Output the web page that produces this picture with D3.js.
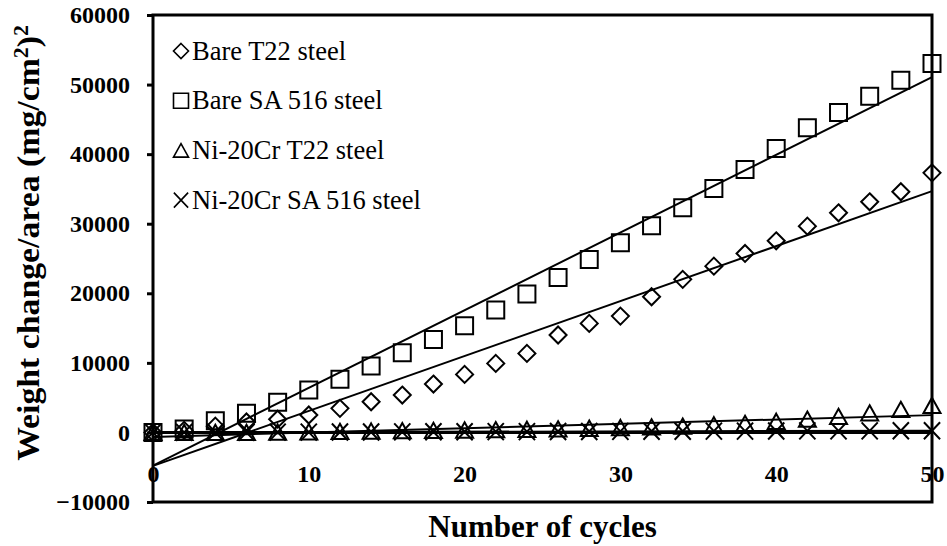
<!DOCTYPE html>
<html>
<head>
<meta charset="utf-8">
<script src="https://cdn.jsdelivr.net/npm/d3@7"></script>
<style>body{margin:0;background:#fff}</style>
</head>
<body>
<svg id="chart" width="947" height="546"></svg>
<script>
// Cycle numbers at which the specimens were weighed
const cycles = [0, 2, 4, 6, 8, 10, 12, 14, 16, 18, 20, 22, 24, 26, 28, 30, 32, 34, 36, 38, 40, 42, 44, 46, 48, 50];

// (Weight change / area)^2 in (mg/cm^2)^2 for each specimen
const bareT22 = [0, 300, 900, 1500, 1900, 2500, 3460, 4410, 5370, 6950, 8340, 9920, 11360, 14000, 15670, 16720, 19500, 22000, 23900, 25730, 27540, 29650, 31570, 33150, 34590, 37310];
const bareSA516 = [0, 490, 1680, 2740, 4320, 6090, 7630, 9540, 11450, 13370, 15330, 17590, 19880, 22280, 24870, 27260, 29700, 32290, 35070, 37800, 40820, 43780, 45990, 48330, 50630, 53030];
const niCrT22 = [0, 0, 0, 0, 50, 100, 150, 200, 250, 300, 350, 400, 450, 500, 600, 700, 800, 900, 1100, 1300, 1600, 1900, 2300, 2800, 3300, 3900];
const niCrSA516 = [0, 15, 20, 30, 45, 50, 60, 70, 80, 95, 100, 110, 120, 135, 140, 150, 165, 170, 180, 190, 200, 215, 220, 230, 245, 250];

const seriesNames = ["Bare T22 steel", "Bare SA 516 steel", "Ni-20Cr T22 steel", "Ni-20Cr SA 516 steel"];
const markerKinds = ["diamond", "square", "triangle", "cross"];

const xTicks = [0, 10, 20, 30, 40, 50];
const yTicks = [-10000, 0, 10000, 20000, 30000, 40000, 50000, 60000];

const series = [bareT22, bareSA516, niCrT22, niCrSA516].map((vals, i) => ({
  name: seriesNames[i],
  kind: markerKinds[i],
  points: cycles.map((c, j) => ({ x: c, y: vals[j] }))
}));

const svg = d3.select("#chart");
const box = { left: 153, right: 932, top: 15, bottom: 502 };
const FONT = "'Liberation Serif'";

const x = d3.scaleLinear().domain([0, 50]).range([box.left, box.right]);
const y = d3.scaleLinear().domain([-10000, 60000]).range([box.bottom, box.top]);

// Marker outlines centred on the origin
function markerPath(kind, s) {
  const h = s / 2;
  const p = d3.path();
  if (kind === "diamond") {
    p.moveTo(0, -h); p.lineTo(h, 0); p.lineTo(0, h); p.lineTo(-h, 0); p.closePath();
  } else if (kind === "square") {
    p.rect(-h, -h, s, s);
  } else if (kind === "triangle") {
    const th = s * 0.9;
    p.moveTo(0, -th / 2); p.lineTo(h, th / 2); p.lineTo(-h, th / 2); p.closePath();
  } else {
    const cx = h * 0.95;
    p.moveTo(-cx, -h); p.lineTo(cx, h);
    p.moveTo(cx, -h); p.lineTo(-cx, h);
  }
  return p.toString();
}
const markerSize = { diamond: 17, square: 17, triangle: 17, cross: 17 };

// Least-squares straight line through a series
function linearFit(pts) {
  const mx = d3.mean(pts, d => d.x);
  const my = d3.mean(pts, d => d.y);
  const sxy = d3.sum(pts, d => (d.x - mx) * (d.y - my));
  const sxx = d3.sum(pts, d => (d.x - mx) ** 2);
  const slope = sxy / sxx;
  const icpt = my - slope * mx;
  return [{ x: 0, y: icpt }, { x: 50, y: icpt + slope * 50 }];
}

// Y axis on the left edge with outward ticks
const yAxis = svg.append("g")
  .attr("transform", `translate(${box.left},0)`)
  .call(d3.axisLeft(y).tickValues(yTicks).tickSizeInner(6).tickSizeOuter(0).tickPadding(17).tickFormat(d3.format("d")));
yAxis.select(".domain").remove();
yAxis.selectAll(".tick line").attr("stroke", "#000").attr("stroke-width", 3);
yAxis.selectAll(".tick text")
  .attr("font-family", FONT).attr("font-size", 24).attr("font-weight", "bold").attr("fill", "#000");

// X axis running along zero, labels set below it
const xAxis = svg.append("g")
  .attr("transform", `translate(0,${y(0)})`)
  .call(d3.axisBottom(x).tickValues(xTicks).tickSizeInner(0).tickSizeOuter(0).tickPadding(33));
xAxis.select(".domain").remove();
xAxis.selectAll(".tick line").remove();
xAxis.selectAll(".tick text")
  .attr("font-family", FONT).attr("font-size", 24).attr("font-weight", "bold").attr("fill", "#000");

// Trend lines
const line = d3.line().x(d => x(d.x)).y(d => y(d.y));
svg.append("g").selectAll("path")
  .data(series)
  .join("path")
  .attr("d", d => line(linearFit(d.points)))
  .attr("fill", "none").attr("stroke", "#000").attr("stroke-width", 2);

// Zero line
svg.append("line")
  .attr("x1", box.left).attr("x2", box.right)
  .attr("y1", y(0)).attr("y2", y(0))
  .attr("stroke", "#000").attr("stroke-width", 3);

// Data markers
series.forEach(s => {
  svg.append("g").selectAll("path")
    .data(s.points)
    .join("path")
    .attr("transform", d => `translate(${x(d.x)},${y(d.y)})`)
    .attr("d", markerPath(s.kind, markerSize[s.kind]))
    .attr("fill", "none").attr("stroke", "#000").attr("stroke-width", 2);
});

// Plot frame
svg.append("rect")
  .attr("x", box.left).attr("y", box.top)
  .attr("width", box.right - box.left).attr("height", box.bottom - box.top)
  .attr("fill", "none").attr("stroke", "#000").attr("stroke-width", 3);

// Legend
const legend = svg.append("g").attr("transform", "translate(181,51)");
const rows = legend.selectAll("g").data(series).join("g")
  .attr("transform", (d, i) => `translate(0,${i * 49.7})`);
rows.append("path")
  .attr("d", d => markerPath(d.kind, 15))
  .attr("fill", "none").attr("stroke", "#000").attr("stroke-width", 1.6);
rows.append("text")
  .attr("x", 11).attr("y", 8.5)
  .attr("font-family", FONT).attr("font-size", 26.5).attr("fill", "#000")
  .text(d => d.name);

// Axis titles
svg.append("text")
  .attr("x", (box.left + box.right) / 2).attr("y", 537)
  .attr("text-anchor", "middle")
  .attr("font-family", FONT).attr("font-weight", "bold").attr("font-size", 31).attr("fill", "#000")
  .text("Number of cycles");

const yTitle = svg.append("text")
  .attr("transform", "translate(39,243) rotate(-90) scale(1.09,1)")
  .attr("text-anchor", "middle")
  .attr("font-family", FONT).attr("font-weight", "bold").attr("font-size", 31).attr("fill", "#000");
yTitle.append("tspan").text("Weight change/area (mg/cm");
yTitle.append("tspan").attr("dy", -11).attr("font-size", 20).text("2");
yTitle.append("tspan").attr("dy", 11).text(")");
yTitle.append("tspan").attr("dy", -11).attr("font-size", 20).text("2");
</script>
</body>
</html>
